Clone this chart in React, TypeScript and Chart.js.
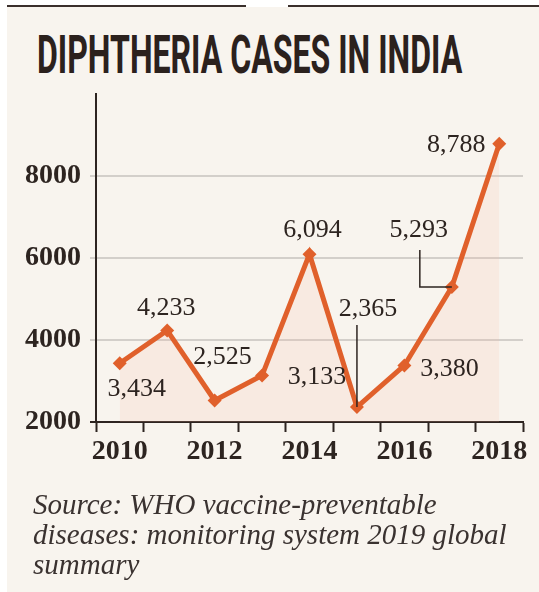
import React, { useEffect, useLayoutEffect, useRef, useState } from 'react';
import { Chart, registerables } from 'chart.js';

Chart.register(...registerables);

// ---- data ----
const years = ['2010', '2011', '2012', '2013', '2014', '2015', '2016', '2017', '2018'];
const cases = [3434, 4233, 2525, 3133, 6094, 2365, 3380, 5293, 8788];
const yTickValues = [2000, 4000, 6000, 8000];
const shownYearLabels = ['2010', '2012', '2014', '2016', '2018'];
const TITLE = 'DIPHTHERIA CASES IN INDIA';
const SOURCE_LINES = [
  'Source: WHO vaccine-preventable',
  'diseases: monitoring system 2019 global',
  'summary',
];

// ---- label placement (style, px offsets from each point) ----
const labelDx = [17, -1, 8, 55, 3, 11, 45, -33, -43];
const labelDy = [26, -22, -43, 2, -24, -98, 4, -57, 1];
const labelLeader = ['', '', '', '', '', 'v', '', 'L', ''];

const INK = '#2d2420';
const ORANGE = '#e0602b';
const CREAM = '#f8f4ee';

const labelPlugin = {
  id: 'valueLabels',
  afterDatasetsDraw(chart: any) {
    const ctx = chart.ctx;
    const meta = chart.getDatasetMeta(0);
    ctx.save();
    ctx.font = '26px "Liberation Serif", serif';
    ctx.fillStyle = INK;
    ctx.textAlign = 'center';
    ctx.textBaseline = 'middle';
    meta.data.forEach((pt: any, i: number) => {
      const v = cases[i];
      const tx = pt.x + labelDx[i];
      const ty = pt.y + labelDy[i];
      ctx.fillText(v.toLocaleString('en-US'), tx, ty);
      ctx.strokeStyle = INK;
      ctx.lineWidth = 1.5;
      if (labelLeader[i] === 'v') {
        ctx.beginPath();
        ctx.moveTo(pt.x, ty + 16);
        ctx.lineTo(pt.x, pt.y);
        ctx.stroke();
      } else if (labelLeader[i] === 'L') {
        ctx.beginPath();
        ctx.moveTo(tx + 1, ty + 20);
        ctx.lineTo(tx + 1, pt.y);
        ctx.lineTo(pt.x, pt.y);
        ctx.stroke();
      }
    });
    ctx.restore();
  },
};

function LineChart() {
  const ref = useRef<HTMLCanvasElement>(null);
  useEffect(() => {
    if (!ref.current) return;
    const chart = new Chart(ref.current, {
      type: 'line',
      data: {
        labels: years,
        datasets: [
          {
            data: cases,
            borderColor: ORANGE,
            borderWidth: 5,
            backgroundColor: 'rgba(250, 185, 160, 0.17)',
            fill: 'start',
            tension: 0,
            pointStyle: 'rectRot',
            pointRadius: 7,
            pointBackgroundColor: ORANGE,
            pointBorderColor: ORANGE,
            pointBorderWidth: 0,
          },
        ],
      },
      options: {
        responsive: false,
        animation: false,
        devicePixelRatio: 1,
        layout: { padding: { left: 0, right: 16, top: 94, bottom: 120 } },
        plugins: {
          legend: { display: false },
          tooltip: { enabled: false },
          title: { display: false },
        },
        scales: {
          x: {
            type: 'category',
            offset: true,
            grid: {
              offset: true,
              drawOnChartArea: false,
              drawTicks: true,
              tickLength: 10,
              tickColor: INK,
              tickWidth: 2,
            },
            border: { display: true, color: INK, width: 2 },
            ticks: {
              autoSkip: false,
              maxRotation: 0,
              padding: 3,
              color: INK,
              font: { family: '"Liberation Serif", serif', size: 28, weight: 'bold' },
              callback: (_v: any, idx: number) =>
                shownYearLabels.includes(years[idx]) ? years[idx] : '',
            },
            afterFit: (s: any) => {
              s.height = 50;
            },
          },
          y: {
            min: 2000,
            max: 10000,
            afterBuildTicks: (s: any) => {
              s.ticks = [...yTickValues, 10000].map((v) => ({ value: v }));
            },
            grid: {
              drawTicks: true,
              tickLength: 6,
              lineWidth: 2,
              color: (c: any) => {
                const v = c.tick && c.tick.value;
                if (v === 10000) return 'rgba(0,0,0,0)';
                if (v === 2000) return INK;
                return '#d3cfca';
              },
            },
            border: { display: true, color: INK, width: 2 },
            ticks: {
              padding: 9,
              color: INK,
              font: { family: '"Liberation Serif", serif', size: 28, weight: 'bold' },
              callback: (v: any) => (yTickValues.includes(v) ? String(v) : ''),
            },
            afterFit: (s: any) => {
              s.width = 96;
            },
          },
        },
      },
      plugins: [labelPlugin],
    });
    return () => chart.destroy();
  }, []);
  return (
    <canvas
      ref={ref}
      width={539}
      height={592}
      style={{ position: 'absolute', left: 0, top: 0, width: 539, height: 592 }}
    />
  );
}

function Title() {
  const ref = useRef<HTMLSpanElement>(null);
  const [scale, setScale] = useState(1);
  useLayoutEffect(() => {
    if (ref.current) {
      const w = ref.current.offsetWidth;
      if (w > 0) setScale(425 / w);
    }
  }, []);
  return (
    <span
      ref={ref}
      style={{
        position: 'absolute',
        left: 37,
        top: 28,
        fontFamily: 'Roboto, "DejaVu Sans", sans-serif',
        fontWeight: 700,
        fontSize: 54,
        lineHeight: '54px',
        color: '#2b211d',
        whiteSpace: 'nowrap',
        transform: `scaleX(${scale})`,
        transformOrigin: 'left top',
      }}
    >
      {TITLE}
    </span>
  );
}

export default function App() {
  return (
    <div
      style={{
        position: 'absolute',
        left: 0,
        top: 0,
        width: 539,
        height: 592,
        background: '#ffffff',
        overflow: 'hidden',
      }}
    >
      <div
        style={{ position: 'absolute', left: 7, top: 7, right: 0, bottom: 0, background: CREAM }}
      />
      <div style={{ position: 'absolute', left: 7, top: 5, width: 239, height: 2, background: '#3a2f2b' }} />
      <div style={{ position: 'absolute', left: 288, top: 5, width: 251, height: 2, background: '#3a2f2b' }} />
      <Title />
      <LineChart />
      <div
        style={{
          position: 'absolute',
          left: 33,
          top: 489,
          fontFamily: '"Liberation Serif", serif',
          fontStyle: 'italic',
          fontSize: 29,
          lineHeight: '30px',
          color: '#3a3230',
          whiteSpace: 'nowrap',
        }}
      >
        {SOURCE_LINES.map((l) => (
          <div key={l}>{l}</div>
        ))}
      </div>
    </div>
  );
}
